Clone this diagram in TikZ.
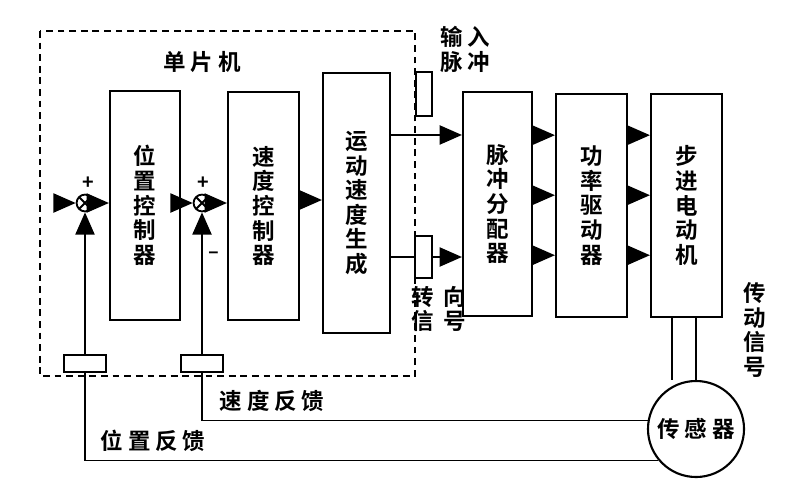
\documentclass[tikz,border=0pt]{standalone}
\usepackage{fontspec}
\setmainfont{Noto Sans CJK SC}[BoldFont=* Bold]
\usepackage{tikz}
\usetikzlibrary{arrows.meta,positioning,shapes}
\newcommand{\chargap}{\hspace{0.12cm}}

\begin{document}
\begin{tikzpicture}[x=0.025cm, y=-0.025cm, line width=1.3pt,
    every node/.style={font=\fontsize{16pt}{17.5pt}\selectfont\bfseries, inner sep=0pt},
    block/.style={draw, rectangle, line width=1.5pt, align=center},
    sumjunc/.style={draw, circle, minimum size=0.42cm, path picture={\draw (path picture bounding box.south west) -- (path picture bounding box.north east) (path picture bounding box.north west) -- (path picture bounding box.south east);}},
    tap/.style={draw, rectangle, fill=white, line width=1.5pt},
    sign/.style={font=\fontsize{14pt}{14pt}\selectfont\bfseries},
    arr/.style={-{Triangle[length=0.56cm,width=0.48cm]}}]
\useasboundingbox (0,0) rectangle (801,500);
\draw[line width=1.5pt, dash pattern=on 0.17cm off 0.12cm] (40,31) rectangle (415,376);
\node (mcu) at (202,62) {单\chargap 片\chargap 机};
\node[block, minimum width=1.75cm, minimum height=5.725cm] (posctrl) at (145,205.5) {位\\置\\控\\制\\器};
\node[block, minimum width=1.775cm, minimum height=5.7cm] (spdctrl) at (263.5,206) {速\\度\\控\\制\\器};
\node[block, minimum width=1.675cm, minimum height=6.5cm] (spdgen) at (356.5,203) {运\\动\\速\\度\\生\\成};
\node[block, minimum width=1.725cm, minimum height=5.6cm] (distrib) at (497.5,204) {脉\\冲\\分\\配\\器};
\node[block, minimum width=1.775cm, minimum height=5.575cm] (driver) at (591.5,205.5) {功\\率\\驱\\动\\器};
\node[block, minimum width=1.775cm, minimum height=5.575cm] (motor) at (686.5,205.5) {步\\进\\电\\动\\机};
\node[draw, circle, line width=1.5pt, minimum size=2.4cm] (sensor) at (696,429) {传\chargap 感\chargap 器};
\node[sumjunc] (sum1) at (85,203) {};
\node[sumjunc] (sum2) at (202,203) {};
\node[tap, minimum width=0.4cm, minimum height=1.1cm] (pulsein) at (424,94) {};
\node[tap, minimum width=0.425cm, minimum height=1.05cm] (dirsig) at (423.5,257) {};
\node[tap, minimum width=1.05cm, minimum height=0.425cm] (posfb) at (85,363.5) {};
\node[tap, minimum width=1.05cm, minimum height=0.425cm] (spdfb) at (202,363.5) {};
\coordinate (ref) at (55,203);
\node[sign] (plus1) at (88,183) {+};
\node[sign] (plus2) at (203,183) {+};
\node[sign] (minus2) at (214,255) {--};
\node[align=center] (pulselbl) at (465,49.5) {输\chargap 入\\脉\chargap 冲};
\node[align=center] (dirlbl) at (439,309) {转\hspace{0.24cm}向\\信\hspace{0.24cm}号};
\node[align=center] (drivelbl) at (755,330) {传\\动\\信\\号};
\node (spdfblbl) at (272,401) {速\chargap 度\chargap 反\chargap 馈};
\node (posfblbl) at (153,441) {位\chargap 置\chargap 反\chargap 馈};
\draw[arr] (ref) -- (sum1.west);
\draw[arr] (sum1.east) -- (sum1.east -| posctrl.west);
\draw[arr] (posctrl.east |- sum2) -- (sum2.west);
\draw[arr] (sum2.east) -- (sum2 -| spdctrl.west);
\draw[arr] ([yshift=0.15cm]spdctrl.east) -- ([yshift=0.15cm]spdctrl.east -| spdgen.west);
\draw[arr] ([yshift=1.7cm]spdgen.east) -- ([yshift=1.7cm]spdgen.east -| distrib.west);
\draw (spdgen.east |- dirsig) -- (dirsig.west);
\draw[arr] (dirsig.east) -- (dirsig -| distrib.west);
\foreach \dy in {1.72,0.22,-1.28} {
  \draw[arr] ([yshift=\dy cm]distrib.east) -- ([yshift=\dy cm]distrib.east -| driver.west);
  \draw[arr] ([yshift=\dy cm]distrib.east -| driver.east) -- ([yshift=\dy cm]distrib.east -| motor.west);
}
\draw ([xshift=-0.36cm]motor.south) -- ([xshift=-0.36cm]motor.south |- sensor.north);
\draw (motor.south -| sensor.north) -- (sensor.north);
\draw (sensor.170) -| (spdfb.south);
\draw[arr] (spdfb.north) -- (sum2.south);
\draw (sensor.220) -| (posfb.south);
\draw[arr] (posfb.north) -- (sum1.south);
\end{tikzpicture}
\end{document}
